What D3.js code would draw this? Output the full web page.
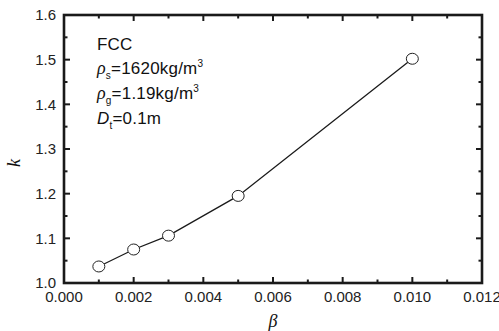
<!DOCTYPE html>
<html>
<head>
<meta charset="utf-8">
<script src="https://cdn.jsdelivr.net/npm/d3@7"></script>
<style>
  html, body { margin: 0; padding: 0; background: #fff; }
  svg { display: block; }
  .tick-label { font-family: "Liberation Sans", Arial, sans-serif; font-size: 15px; fill: #222; }
  .note { font-family: "Liberation Sans", Arial, sans-serif; font-size: 17px; fill: #111; letter-spacing: 0.2px; }
  .axis-title { font-family: "Liberation Serif", "Times New Roman", serif; font-style: italic; font-size: 18px; fill: #111; }
</style>
</head>
<body>
<div id="chart"></div>
<script>
const BETA = [0.001, 0.002, 0.003, 0.005, 0.010];
const K_VALUES = [1.037, 1.075, 1.106, 1.195, 1.502];
const X_TICKS = [0, 0.002, 0.004, 0.006, 0.008, 0.010, 0.012];
const X_MINOR = [0.001, 0.003, 0.005, 0.007, 0.009, 0.011];
const Y_TICKS = [1.0, 1.1, 1.2, 1.3, 1.4, 1.5, 1.6];
const Y_MINOR = [1.05, 1.15, 1.25, 1.35, 1.45, 1.55];

function renderChart() {
  const width = 499;
  const height = 331;
  const margin = { top: 15, right: 17, bottom: 48, left: 64 };
  const svg = d3.select("#chart").append("svg").attr("width", width).attr("height", height);

  const x = d3.scaleLinear().domain([0, 0.012]).range([margin.left, width - margin.right]);
  const y = d3.scaleLinear().domain([1.0, 1.6]).range([height - margin.bottom, margin.top]);
  const [x0, x1] = x.range();
  const [y0, y1] = y.range();

  // inward ticks on all four sides
  const ticks = svg.append("g").attr("stroke", "#1a1a1a").attr("stroke-width", 2);
  const xTickData = X_TICKS.map((v) => ({ v, len: 6 })).concat(X_MINOR.map((v) => ({ v, len: 3.5 })));
  const yTickData = Y_TICKS.map((v) => ({ v, len: 6 })).concat(Y_MINOR.map((v) => ({ v, len: 3.5 })));

  ticks.selectAll(".xb").data(xTickData).join("line")
    .attr("x1", (d) => x(d.v)).attr("x2", (d) => x(d.v))
    .attr("y1", y0).attr("y2", (d) => y0 - d.len);
  ticks.selectAll(".xt").data(xTickData).join("line")
    .attr("x1", (d) => x(d.v)).attr("x2", (d) => x(d.v))
    .attr("y1", y1).attr("y2", (d) => y1 + d.len);
  ticks.selectAll(".yl").data(yTickData).join("line")
    .attr("y1", (d) => y(d.v)).attr("y2", (d) => y(d.v))
    .attr("x1", x0).attr("x2", (d) => x0 + d.len);
  ticks.selectAll(".yr").data(yTickData).join("line")
    .attr("y1", (d) => y(d.v)).attr("y2", (d) => y(d.v))
    .attr("x1", x1).attr("x2", (d) => x1 - d.len);

  svg.append("rect")
    .attr("x", x0).attr("y", y1)
    .attr("width", x1 - x0).attr("height", y0 - y1)
    .attr("fill", "none").attr("stroke", "#1a1a1a").attr("stroke-width", 2.6);

  svg.append("g").selectAll("text").data(X_TICKS).join("text")
    .attr("class", "tick-label")
    .attr("x", (d) => x(d)).attr("y", y0 + 18.5)
    .attr("text-anchor", "middle")
    .text((d) => d3.format(".3f")(d));

  svg.append("g").selectAll("text").data(Y_TICKS).join("text")
    .attr("class", "tick-label")
    .attr("x", x0 - 8).attr("y", (d) => y(d))
    .attr("dy", "0.36em")
    .attr("text-anchor", "end")
    .text((d) => d3.format(".1f")(d));

  svg.append("text")
    .attr("class", "axis-title")
    .attr("x", (x0 + x1) / 2).attr("y", height - 4)
    .attr("text-anchor", "middle")
    .text("β");

  svg.append("text")
    .attr("class", "axis-title")
    .attr("transform", `translate(20, ${(y0 + y1) / 2 + 14}) rotate(-90)`)
    .attr("text-anchor", "middle")
    .text("k");

  const points = BETA.map((b, i) => [b, K_VALUES[i]]);
  svg.append("path")
    .datum(points)
    .attr("fill", "none").attr("stroke", "#1a1a1a").attr("stroke-width", 1.3)
    .attr("d", d3.line().x((d) => x(d[0])).y((d) => y(d[1])));

  svg.append("g").selectAll("ellipse").data(points).join("ellipse")
    .attr("cx", (d) => x(d[0])).attr("cy", (d) => y(d[1]))
    .attr("rx", 6).attr("ry", 5.5)
    .attr("fill", "#fff").attr("stroke", "#222").attr("stroke-width", 1);

  // annotation block
  const note = svg.append("g").attr("class", "note");
  const tx = 97;
  note.append("text").attr("x", tx).attr("y", 50).text("FCC");

  const rs = note.append("text").attr("x", tx).attr("y", 73.5);
  rs.append("tspan").style("font-style", "italic").style("font-family", "Liberation Serif, serif").style("font-size", "18px").text("ρ");
  rs.append("tspan").attr("dy", 5).style("font-size", "10px").text("s");
  rs.append("tspan").attr("dy", -5).text("=1620kg/m");
  rs.append("tspan").attr("dy", -7).style("font-size", "10px").text("3");

  const rg = note.append("text").attr("x", tx).attr("y", 98.5);
  rg.append("tspan").style("font-style", "italic").style("font-family", "Liberation Serif, serif").style("font-size", "18px").text("ρ");
  rg.append("tspan").attr("dy", 5).style("font-size", "10px").text("g");
  rg.append("tspan").attr("dy", -5).text("=1.19kg/m");
  rg.append("tspan").attr("dy", -7).style("font-size", "10px").text("3");

  const dt = note.append("text").attr("x", tx).attr("y", 124);
  dt.append("tspan").style("font-style", "italic").text("D");
  dt.append("tspan").attr("dy", 5).style("font-size", "10px").text("t");
  dt.append("tspan").attr("dy", -5).text("=0.1m");
}

renderChart();
</script>
</body>
</html>
